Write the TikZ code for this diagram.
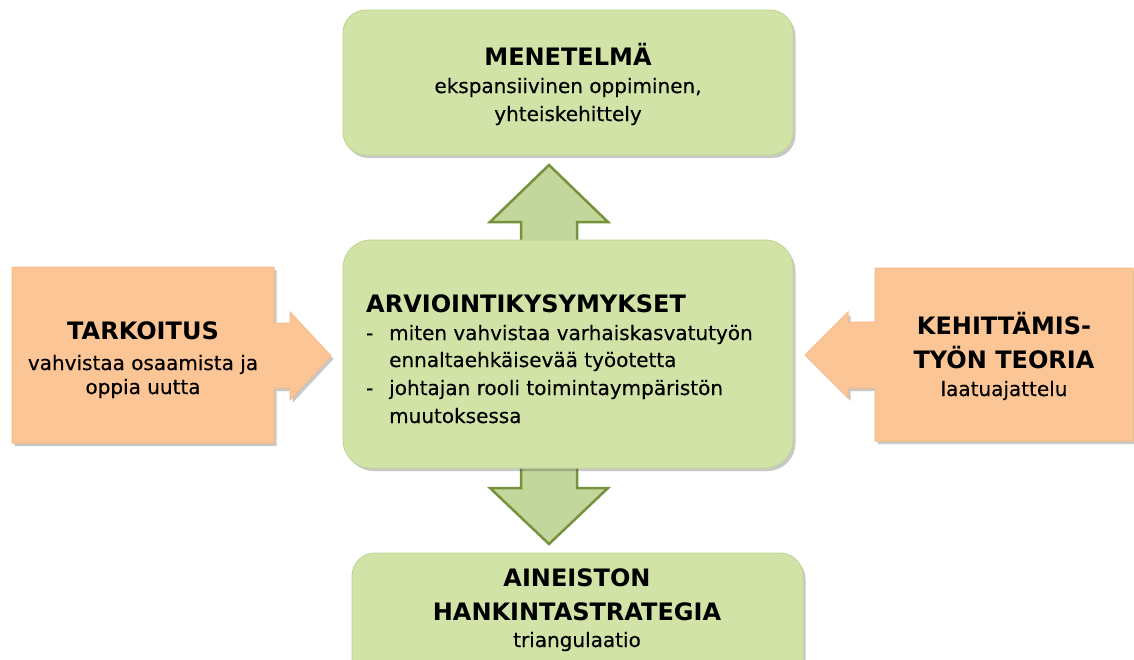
\documentclass[tikz,border=0pt]{standalone}
\usepackage{fontspec}
\setmainfont{DejaVu Sans}
\newfontfamily\bodyfnt[FakeBold=0.35]{DejaVu Sans}
\usetikzlibrary{shadows,calc}
\definecolor{gfill}{HTML}{D2E3A7}
\definecolor{gedge}{HTML}{C3D697}
\definecolor{afill}{HTML}{C3D69B}
\definecolor{aedge}{HTML}{76923C}
\definecolor{ofill}{HTML}{FBC595}
\definecolor{oedge}{HTML}{F7BC88}
\tikzset{
  shade/.style={drop shadow={shadow xshift=2.5pt,shadow yshift=-3pt,opacity=0.3,fill=black!70}},
  gbox/.style={rectangle,rounded corners=23pt,fill=gfill,draw=gedge,line width=1pt,shade,inner sep=0pt},
  blockarrow/.style={fill=afill,draw=aedge,line width=2.5pt,line join=miter},
  obox/.style={fill=ofill,draw=oedge,line width=1pt,line join=miter,shade},
  hd/.style={inner sep=0pt,anchor=base,font=\fontsize{24}{28}\selectfont\bfseries},
  bd/.style={inner sep=0pt,anchor=base,font=\bodyfnt\fontsize{20}{24}\selectfont},
}
\begin{document}
\begin{tikzpicture}[x=1pt,y=-1pt]
\useasboundingbox (0,0) rectangle (1134,659);
\fill[white] (0,0) rectangle (1134,659);
\clip (0,0) rectangle (1134,659);

% block arrows (behind the boxes)
\coordinate (ubase) at (549,242);
\coordinate (utip) at (549,165);
\coordinate (dbase) at (549,466);
\coordinate (dtip) at (549,544);
\draw[blockarrow] ($(ubase)+(-28,0)$) -- ($(utip)+(-28,57)$) -- ($(utip)+(-59,57)$) -- (utip)
   -- ($(utip)+(59,57)$) -- ($(utip)+(28,57)$) -- ($(ubase)+(28,0)$) -- cycle;
\draw[blockarrow] ($(dbase)+(-28,0)$) -- ($(dtip)+(-28,-56)$) -- ($(dtip)+(-59,-56)$) -- (dtip)
   -- ($(dtip)+(59,-56)$) -- ($(dtip)+(28,-56)$) -- ($(dbase)+(28,0)$) -- cycle;

% green boxes
\node[gbox,minimum width=450,minimum height=145] (top) at (568,82.5) {};
\node[gbox,rounded corners=28pt,minimum width=450,minimum height=228] (ctr) at (568,354) {};
\node[gbox,minimum width=451,minimum height=150] (bot) at (577.5,628) {};

% orange callouts
\path[obox] (12,267) -- (274,267) -- (274,323) -- (290,323) -- (290,312) -- (331,356)
   -- (290,400) -- (290,388) -- (274,388) -- (274,443) -- (12,443) -- cycle;
\path[obox] (1133,268) -- (875,268) -- (875,322) -- (848,322) -- (848,312) -- (805,355)
   -- (848,398) -- (848,388) -- (875,388) -- (875,441) -- (1133,441) -- cycle;

% texts: top
\node[hd] (t1) at (568,65) {MENETELMÄ};
\node[bd] (t2) at (568,93) {ekspansiivinen oppiminen,};
\node[bd] (t3) at (568,121) {yhteiskehittely};
% center
\node[hd,anchor=base west] (c1) at (366,312) {ARVIOINTIKYSYMYKSET};
\node[bd,anchor=base west] (c2d) at (366,340) {-};
\node[bd,anchor=base west] (c2) at (389,340) {miten vahvistaa varhaiskasvatutyön};
\node[bd,anchor=base west] (c3) at (389,367) {ennaltaehkäisevää työotetta};
\node[bd,anchor=base west] (c4d) at (366,395) {-};
\node[bd,anchor=base west] (c4) at (389,395) {johtajan rooli toimintaympäristön};
\node[bd,anchor=base west] (c5) at (389,423) {muutoksessa};
% left
\node[hd] (l1) at (143,339) {TARKOITUS};
\node[bd] (l2) at (143,370) {vahvistaa osaamista ja};
\node[bd] (l3) at (143,394) {oppia uutta};
% right
\node[hd] (r1) at (1004,334) {KEHITTÄMIS-};
\node[hd] (r2) at (1004,368) {TYÖN TEORIA};
\node[bd] (r3) at (1004,396) {laatuajattelu};
% bottom
\node[hd] (b1) at (577,586) {AINEISTON};
\node[hd] (b2) at (577,620) {HANKINTASTRATEGIA};
\node[bd] (b3) at (577,647) {triangulaatio};
\end{tikzpicture}
\end{document}
